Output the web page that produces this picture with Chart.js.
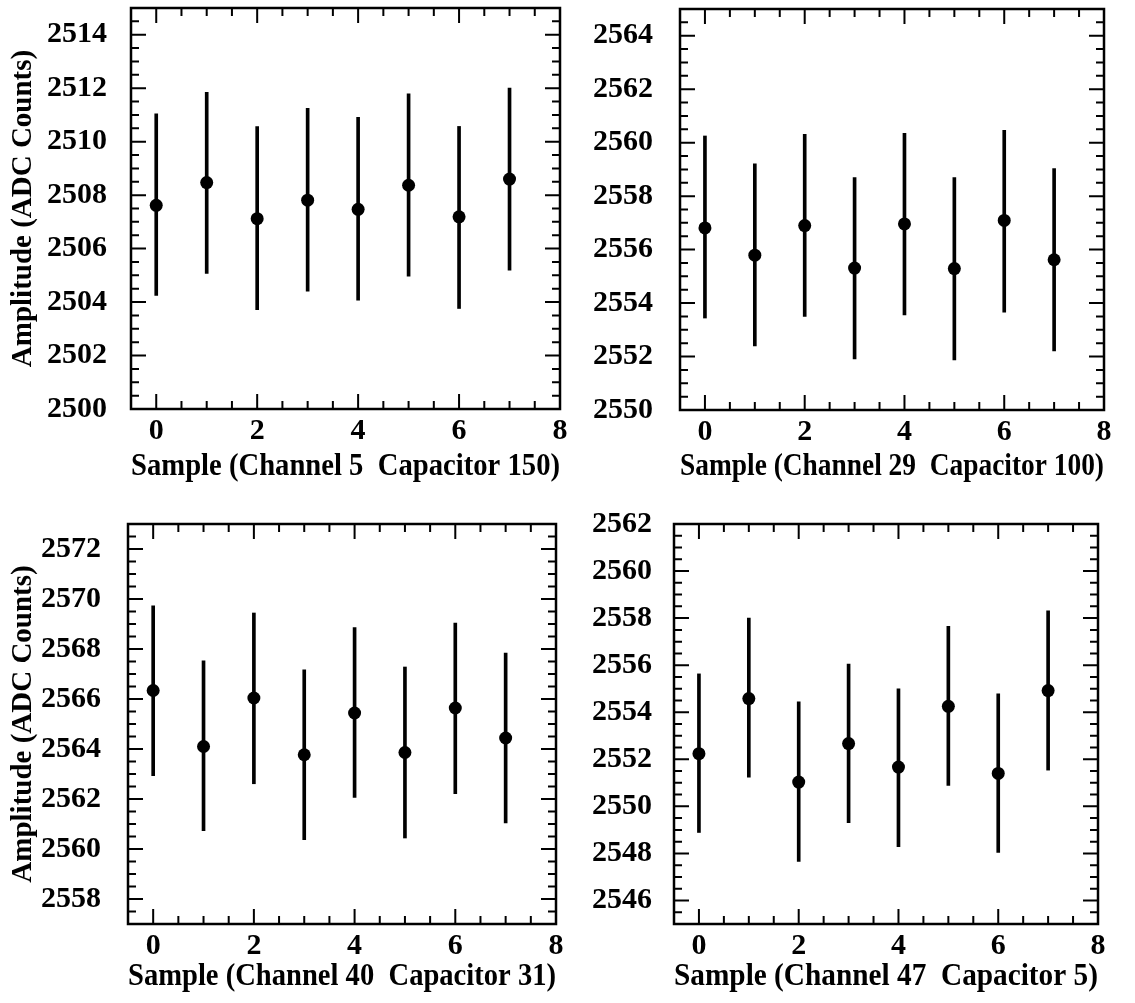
<!DOCTYPE html>
<html>
<head>
<meta charset="utf-8">
<script src="https://cdn.jsdelivr.net/npm/chart.js@4.4.1/dist/chart.umd.min.js"></script>
<style>
  body { margin: 0; background: #fff; }
  #hoja { position: relative; width: 1135px; height: 1003px; background: #fff; }
  canvas { position: absolute; }
</style>
</head>
<body>
<div id="hoja">
  <canvas id="g1" width="567" height="500" style="left:0px;top:0px;width:567px;height:500px"></canvas>
  <canvas id="g2" width="568" height="500" style="left:567px;top:0px;width:568px;height:500px"></canvas>
  <canvas id="g3" width="567" height="503" style="left:0px;top:500px;width:567px;height:503px"></canvas>
  <canvas id="g4" width="568" height="503" style="left:567px;top:500px;width:568px;height:503px"></canvas>
</div>
<script>
// muestras (eje x comun)
var muestras = [0, 1, 2, 3, 4, 5, 6, 7];
var ticksX = [0, 2, 4, 6, 8];

// Canal 5, capacitor 150
var valores1 = [2507.62, 2508.47, 2507.12, 2507.81, 2507.47, 2508.37, 2507.19, 2508.60];
var altos1   = [2511.04, 2511.85, 2510.56, 2511.25, 2510.91, 2511.79, 2510.57, 2512.00];
var bajos1   = [2504.25, 2505.07, 2503.72, 2504.41, 2504.07, 2504.97, 2503.76, 2505.19];
var ticksY1  = [2500, 2502, 2504, 2506, 2508, 2510, 2512, 2514];

// Canal 29, capacitor 100
var valores2 = [2556.81, 2555.79, 2556.90, 2555.31, 2556.96, 2555.29, 2557.09, 2555.62];
var altos2   = [2560.25, 2559.21, 2560.31, 2558.69, 2560.35, 2558.69, 2560.46, 2559.03];
var bajos2   = [2553.44, 2552.40, 2553.50, 2551.91, 2553.56, 2551.87, 2553.66, 2552.21];
var ticksY2  = [2550, 2552, 2554, 2556, 2558, 2560, 2562, 2564];

// Canal 40, capacitor 31
var valores3 = [2566.34, 2564.10, 2566.04, 2563.77, 2565.44, 2563.86, 2565.64, 2564.44];
var altos3   = [2569.73, 2567.53, 2569.44, 2567.17, 2568.86, 2567.28, 2569.04, 2567.84];
var bajos3   = [2562.93, 2560.73, 2562.61, 2560.37, 2562.06, 2560.44, 2562.21, 2561.04];
var ticksY3  = [2558, 2560, 2562, 2564, 2566, 2568, 2570, 2572];

// Canal 47, capacitor 5
var valores4 = [2552.24, 2554.58, 2551.03, 2552.67, 2551.67, 2554.25, 2551.40, 2554.92];
var altos4   = [2555.63, 2558.00, 2554.44, 2556.05, 2555.00, 2557.65, 2554.78, 2558.31];
var bajos4   = [2548.89, 2551.24, 2547.66, 2549.31, 2548.29, 2550.89, 2548.04, 2551.54];
var ticksY4  = [2546, 2548, 2550, 2552, 2554, 2556, 2558, 2560, 2562];

var titulosX = [
    'Sample (Channel 5  Capacitor 150)',
    'Sample (Channel 29  Capacitor 100)',
    'Sample (Channel 40  Capacitor 31)',
    'Sample (Channel 47  Capacitor 5)'
];
var tituloY = 'Amplitude (ADC Counts)';

var fuente = 'Liberation Serif, Times New Roman, serif';

// marco con marcas hacia dentro en los cuatro lados
var marco = {
    id: 'marco',
    afterDatasetsDraw: function (chart) {
        var ctx = chart.ctx;
        var a = chart.chartArea;
        var sx = chart.scales.x;
        var sy = chart.scales.y;
        ctx.save();
        ctx.strokeStyle = '#000';
        ctx.lineWidth = 2;
        ctx.beginPath();
        for (var v = Math.ceil(sx.min * 2) / 2; v <= sx.max; v += 0.5) {
            var px = sx.getPixelForValue(v);
            var lx = (v % 2 === 0) ? 15 : 8;
            ctx.moveTo(px, a.bottom);
            ctx.lineTo(px, a.bottom - lx);
            ctx.moveTo(px, a.top);
            ctx.lineTo(px, a.top + lx);
        }
        for (var w = Math.ceil(sy.min * 2) / 2; w <= sy.max; w += 0.5) {
            var py = sy.getPixelForValue(w);
            var ly = (w % 2 === 0) ? 15 : 8;
            ctx.moveTo(a.left, py);
            ctx.lineTo(a.left + ly, py);
            ctx.moveTo(a.right, py);
            ctx.lineTo(a.right - ly, py);
        }
        ctx.stroke();
        ctx.lineWidth = 2.5;
        ctx.strokeRect(a.left, a.top, a.right - a.left, a.bottom - a.top);
        ctx.restore();
    }
};

function sinComas(v) { return String(v); }

function dibujarPanel(id, p) {
    var puntos = muestras.map(function (m, i) { return { x: m, y: p.valores[i] }; });
    var barras = muestras.map(function (m, i) { return { x: m, y: [p.bajos[i], p.altos[i]] }; });
    var lienzo = document.getElementById(id);

    return new Chart(lienzo.getContext('2d'), {
        type: 'bar',
        data: {
            datasets: [{
                type: 'scatter',
                data: puntos,
                backgroundColor: '#000',
                borderWidth: 0,
                pointRadius: 6.5,
                showLine: false
            }, {
                type: 'bar',
                data: barras,
                backgroundColor: '#000',
                borderWidth: 0,
                barThickness: 3,
                grouped: false
            }]
        },
        options: {
            responsive: false,
            animation: false,
            events: [],
            layout: { padding: { left: 0, top: p.arriba, right: lienzo.width - p.derecha, bottom: 0 } },
            plugins: { legend: { display: false }, tooltip: { enabled: false } },
            scales: {
                x: {
                    type: 'linear',
                    min: -0.5,
                    max: 8,
                    offset: false,
                    grid: { display: false, drawTicks: false },
                    border: { display: false },
                    afterBuildTicks: function (s) { s.ticks = ticksX.map(function (t) { return { value: t }; }); },
                    afterFit: function (s) {
                        s.height = lienzo.height - p.abajo;
                        s.paddingLeft = 0;
                        s.paddingRight = 0;
                    },
                    ticks: { color: '#000', padding: 4, maxRotation: 0, callback: sinComas,
                        font: { family: fuente, size: 30, weight: 'bold' } },
                    title: {
                        display: true,
                        text: p.tituloX,
                        color: '#000',
                        padding: { top: 0, bottom: p.margenTitulo },
                        font: { family: fuente, size: 31, weight: 'bold' }
                    }
                },
                y: {
                    type: 'linear',
                    min: p.min,
                    max: p.max,
                    grid: { display: false, drawTicks: false },
                    border: { display: false },
                    afterBuildTicks: function (s) { s.ticks = p.ticksY.map(function (t) { return { value: t }; }); },
                    afterFit: function (s) {
                        s.width = p.izquierda;
                        s.paddingTop = 0;
                        s.paddingBottom = 0;
                    },
                    ticks: { color: '#000', padding: p.sepEtiquetas, callback: sinComas,
                        font: { family: fuente, size: 30, weight: 'bold' } },
                    title: {
                        display: p.conTituloY,
                        text: tituloY,
                        color: '#000',
                        padding: { top: 6, bottom: 0 },
                        font: { family: fuente, size: 29, weight: 'bold' }
                    }
                }
            }
        },
        plugins: [marco]
    });
}

dibujarPanel('g1', { valores: valores1, altos: altos1, bajos: bajos1, ticksY: ticksY1, min: 2500, max: 2515,
    tituloX: titulosX[0], conTituloY: true, izquierda: 131, derecha: 560, arriba: 8, abajo: 409, sepEtiquetas: 24, margenTitulo: 14 });
dibujarPanel('g2', { valores: valores2, altos: altos2, bajos: bajos2, ticksY: ticksY2, min: 2550, max: 2565,
    tituloX: titulosX[1], conTituloY: false, izquierda: 113, derecha: 537, arriba: 9, abajo: 410, sepEtiquetas: 27, margenTitulo: 14 });
dibujarPanel('g3', { valores: valores3, altos: altos3, bajos: bajos3, ticksY: ticksY3, min: 2557, max: 2573,
    tituloX: titulosX[2], conTituloY: true, izquierda: 128, derecha: 556, arriba: 24, abajo: 424, sepEtiquetas: 27, margenTitulo: 7 });
dibujarPanel('g4', { valores: valores4, altos: altos4, bajos: bajos4, ticksY: ticksY4, min: 2545, max: 2562,
    tituloX: titulosX[3], conTituloY: false, izquierda: 107, derecha: 531, arriba: 24, abajo: 424, sepEtiquetas: 22, margenTitulo: 7 });
</script>
</body>
</html>
